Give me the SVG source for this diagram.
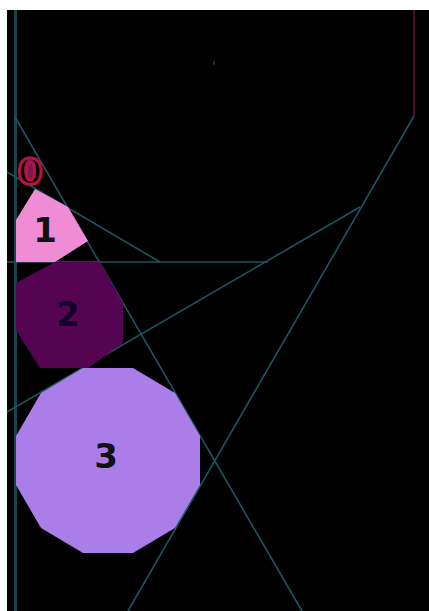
<svg xmlns="http://www.w3.org/2000/svg" width="429" height="611" viewBox="0 0 429 611">
<style>
.ln{stroke:#1b5560;stroke-width:1.6;fill:none}
.lbl{font-family:"DejaVu Sans",sans-serif;font-weight:bold;font-size:34px;text-anchor:middle;dominant-baseline:central;fill:#111}
</style>
<rect width="429" height="611" fill="#fff"/>
<rect x="7" y="10" width="422" height="601" fill="#000"/>
<g id="connectors">
<line x1="15.5" y1="10" x2="15.5" y2="611" stroke="#17434b" stroke-width="3"/>
<line x1="414" y1="10" x2="414" y2="116" stroke="#4a0c24" stroke-width="2"/>
<line class="ln" x1="15" y1="117" x2="302" y2="611"/>
<line class="ln" x1="414" y1="116" x2="128" y2="611"/>
<line class="ln" x1="360" y1="207" x2="7" y2="412"/>
<line class="ln" x1="7" y1="262" x2="268" y2="262"/>
<line class="ln" x1="7" y1="172" x2="160" y2="262"/>
</g>
<g id="dot">
<rect x="213" y="61" width="2" height="4" fill="#5a0c22"/>
</g>
<g id="node0">
<ellipse cx="30" cy="170" rx="6" ry="11" fill="#7a1850"/>
<text x="30" y="171" class="lbl" style="fill:none;stroke:#b81244;stroke-width:3;font-size:36px">0</text>
</g>
<g id="node1">
<polygon points="35,189 68,207 88,241 55,262 16,262 16,220" fill="#f08cd6"/>
<text x="45" y="230" class="lbl">1</text>
</g>
<g id="node2">
<polygon points="16,283 55,262 100,262 123,303 123,343 88,368 40,368 16,330" fill="#550452"/>
<text x="68" y="314" class="lbl" style="fill:#14002a">2</text>
</g>
<g id="node3">
<polygon points="200,436 200,485 175,528 133,553 83,553 41,528 16,485 16,436 41,393 83,368 133,368 175,393" fill="#aa7de8"/>
<text x="106" y="456" class="lbl">3</text>
</g>
</svg>
